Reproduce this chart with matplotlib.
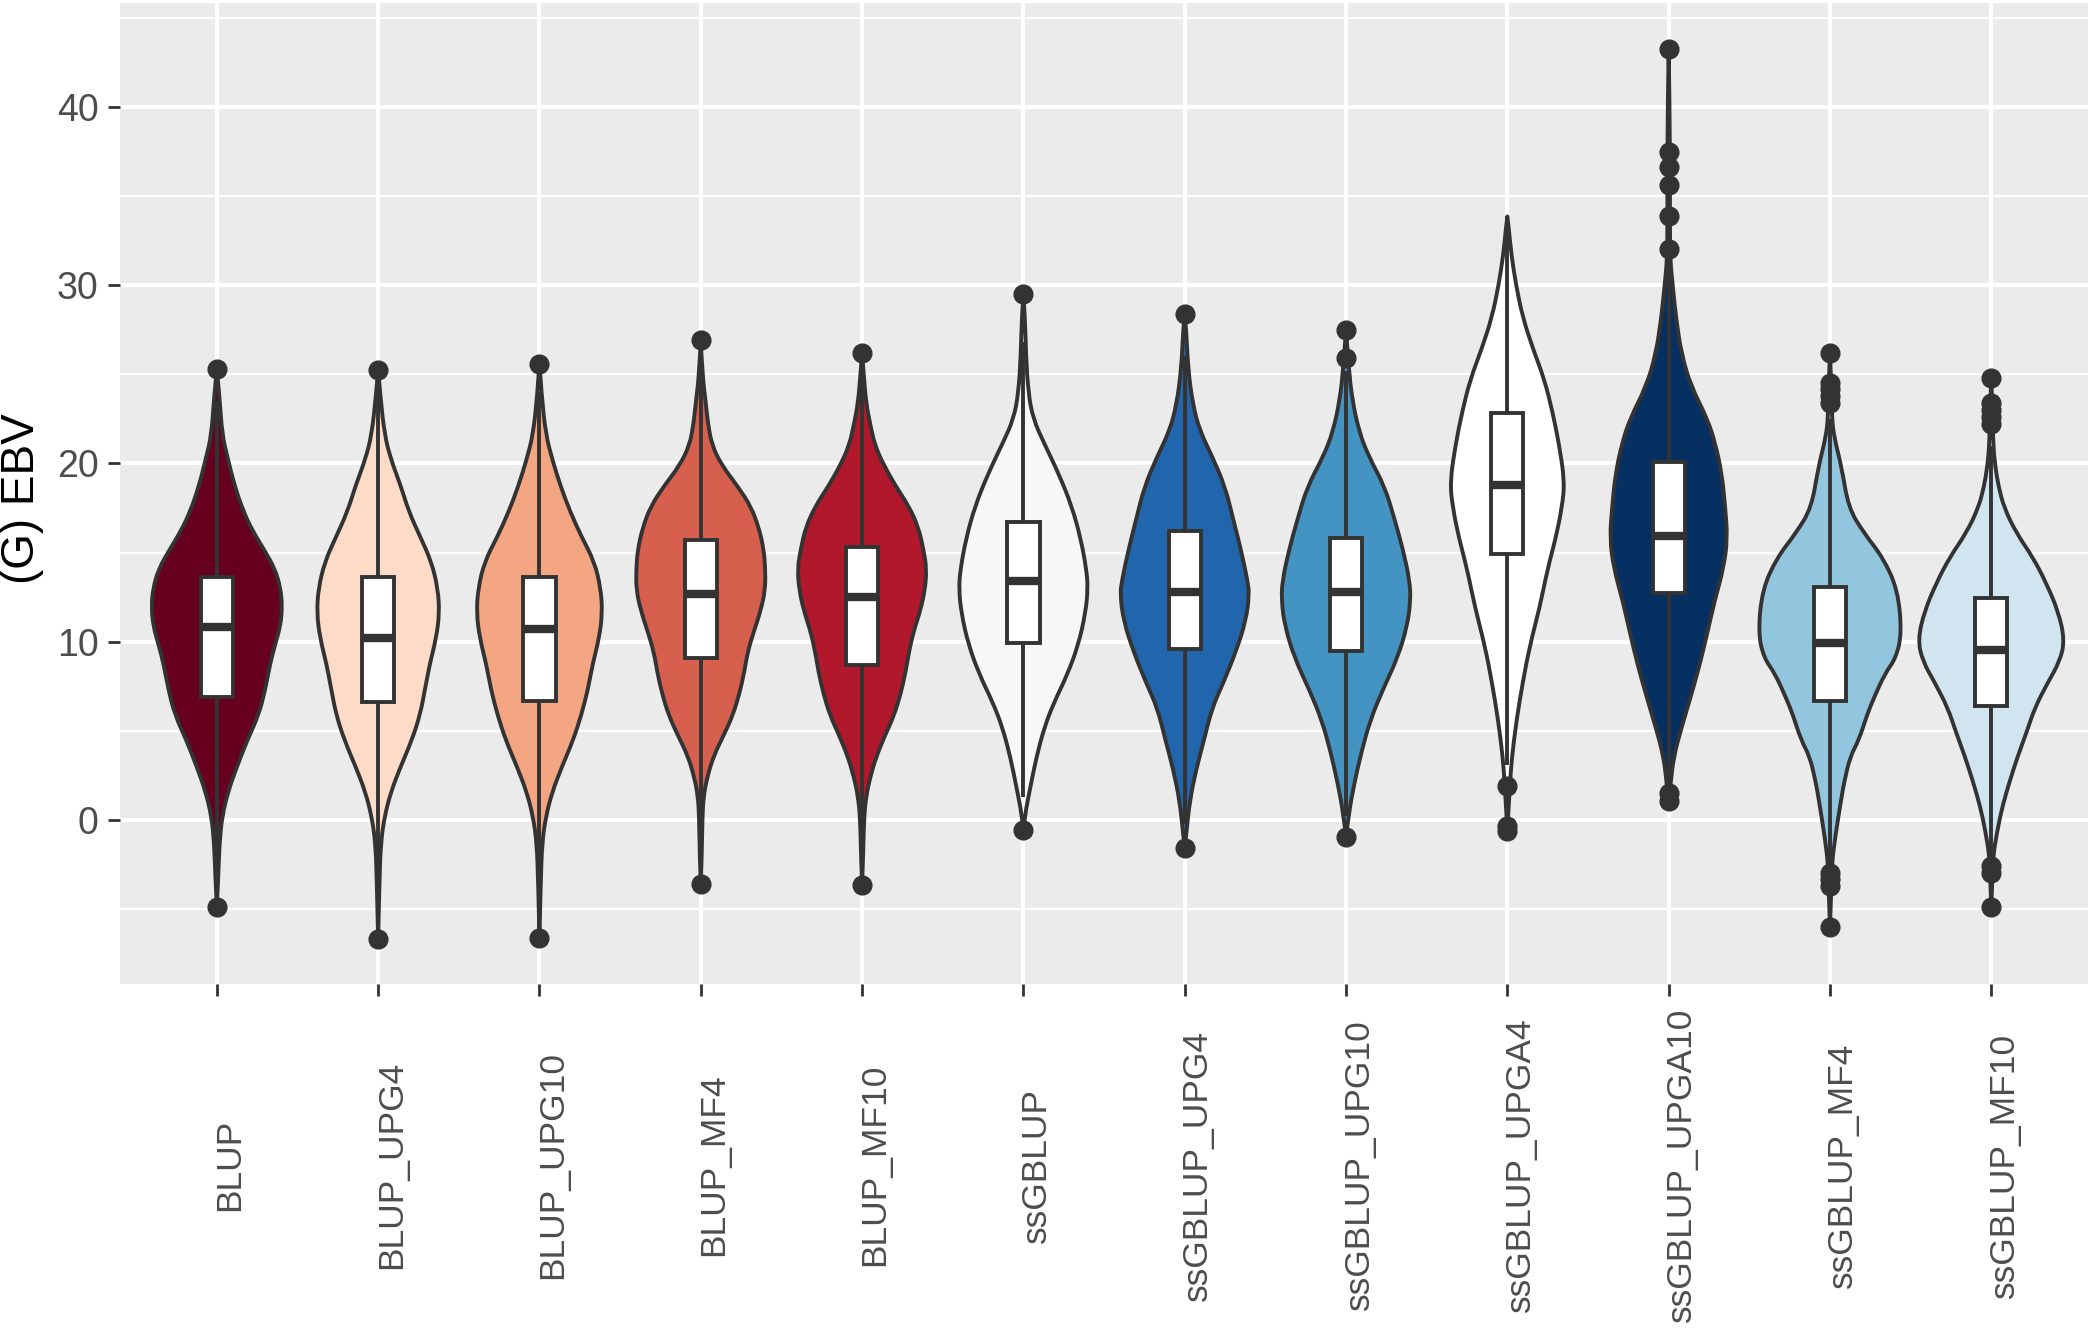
import numpy as np
import matplotlib.pyplot as plt
from matplotlib.ticker import MultipleLocator
from matplotlib.path import Path
from matplotlib.patches import PathPatch
import matplotlib.transforms as mtransforms

plt.rcParams['font.family'] = ['Liberation Sans', 'DejaVu Sans']

categories = ['BLUP', 'BLUP_UPG4', 'BLUP_UPG10', 'BLUP_MF4', 'BLUP_MF10', 'ssGBLUP',
              'ssGBLUP_UPG4', 'ssGBLUP_UPG10', 'ssGBLUP_UPGA4', 'ssGBLUP_UPGA10',
              'ssGBLUP_MF4', 'ssGBLUP_MF10']
fills = ['#67001F', '#FDDBC7', '#F4A582', '#D6604D', '#B2182B', '#F7F7F7',
         '#2166AC', '#4393C3', '#FFFFFF', '#053061', '#92C5DE', '#D1E5F0']

# box statistics
q1 = [6.9, 6.6, 6.7, 9.07, 8.7, 9.9, 9.6, 9.5, 14.9, 12.75, 6.67, 6.4]
med = [10.8, 10.2, 10.7, 12.67, 12.5, 13.4, 12.8, 12.8, 18.8, 15.9, 9.95, 9.55]
q3 = [13.6, 13.6, 13.65, 15.7, 15.3, 16.7, 16.2, 15.8, 22.8, 20.1, 13.05, 12.45]
whisk_lo = [-3.0, -3.8, -3.6, -0.8, -1.1, 1.3, -0.2, 0.2, 3.1, 1.8, -2.5, -2.3]
whisk_hi = [23.5, 24.0, 24.0, 25.5, 25.1, 26.8, 26.0, 25.2, 33.85, 31.0, 22.5, 21.0]
outliers = [
    [25.3, -4.9],
    [25.25, -6.7],
    [25.6, -6.6],
    [26.9, -3.6],
    [26.2, -3.67],
    [29.5, -0.57],
    [28.4, -1.55],
    [27.5, 25.9, -0.95],
    [1.9, -0.35, -0.6],
    [43.25, 37.45, 36.6, 35.6, 33.9, 32.0, 1.5, 1.05],
    [26.2, 24.5, 24.2, 23.8, 23.4, -3.0, -3.3, -3.7, -6.0],
    [24.8, 23.4, 23.0, 22.6, 22.2, -2.6, -3.0, -4.9],
]

# violin outlines: EBV level and half width (in category units)
vio_y = [
    [25.3, 23.75, 21.6, 20.2, 18.75, 17.3, 16.25, 15.2, 14.1, 13.0, 12.0, 10.9, 9.8, 8.75, 7.3, 5.9, 4.5, 3.0, 1.6, 0.2, -1.25, -3.4, -4.9],
    [25.25, 23.75, 21.6, 20.2, 18.75, 17.3, 15.9, 14.5, 13.0, 11.6, 10.2, 8.75, 7.3, 5.9, 4.5, 3.0, 1.6, 0.2, -1.25, -3.4, -6.7],
    [25.6, 23.75, 21.6, 20.2, 18.75, 17.3, 15.9, 14.5, 13.0, 11.6, 10.2, 8.75, 7.3, 5.9, 4.5, 3.0, 1.6, 0.2, -1.25, -3.4, -6.6],
    [26.9, 25.0, 23.4, 22.2, 21.0, 19.9, 18.7, 17.6, 16.4, 15.2, 14.1, 12.9, 11.7, 10.6, 9.4, 8.3, 7.1, 5.9, 4.8, 3.6, 2.4, 1.3, 0.1, -2.2, -3.6],
    [26.2, 25.0, 23.4, 22.2, 21.0, 19.9, 18.7, 17.6, 16.4, 15.2, 14.1, 12.9, 11.7, 10.6, 9.4, 8.3, 7.1, 5.9, 4.8, 3.6, 2.4, 1.3, 0.1, -2.2, -3.67],
    [29.5, 28.2, 26.1, 24.0, 22.5, 21.1, 19.4, 17.6, 15.8, 14.1, 13.0, 11.6, 9.8, 8.1, 6.6, 5.2, 3.5, 1.7, 0.3, -0.57],
    [28.4, 27.5, 25.4, 23.3, 21.8, 20.4, 18.7, 16.9, 15.1, 13.4, 12.65, 11.2, 9.5, 7.7, 6.3, 4.5, 2.8, 1.0, -0.8, -1.55],
    [27.5, 25.4, 23.6, 21.8, 20.4, 18.7, 16.9, 15.1, 13.4, 12.3, 10.9, 9.1, 7.35, 5.6, 3.8, 2.0, 0.3, -0.95],
    [33.85, 33.1, 31.7, 30.0, 28.2, 26.4, 24.7, 22.9, 21.1, 19.0, 17.6, 15.8, 14.1, 11.9, 9.8, 7.7, 5.6, 3.5, 2.0, -0.6],
    [43.25, 40.0, 36.0, 33.0, 31.4, 30.0, 28.2, 26.1, 24.3, 22.5, 21.1, 19.4, 17.6, 15.8, 14.1, 12.3, 10.5, 8.8, 7.0, 5.2, 3.5, 2.05, 1.05],
    [26.2, 24.5, 22.6, 21.5, 19.8, 17.5, 16.1, 14.7, 12.9, 10.5, 9.1, 8.2, 6.8, 5.9, 4.5, 3.55, 2.2, 1.2, -1.1, -2.5, -4.0, -6.0],
    [24.8, 23.0, 21.0, 19.8, 18.7, 17.5, 16.1, 14.7, 13.3, 11.7, 10.1, 8.9, 7.7, 6.3, 4.95, 3.6, 2.2, 0.8, -0.6, -2.0, -3.0, -4.9],
]
vio_w = [
    [0, .017, .033, .07, .11, .165, .22, .29, .36, .395, .405, .395, .36, .33, .30, .26, .19, .125, .07, .033, .017, .008, 0],
    [0, .014, .04, .08, .14, .19, .26, .33, .37, .38, .36, .32, .29, .26, .21, .14, .08, .04, .017, .008, 0],
    [0, .014, .04, .08, .13, .19, .26, .34, .38, .39, .37, .33, .30, .26, .21, .14, .08, .04, .017, .008, 0],
    [0, .01, .031, .045, .07, .13, .23, .31, .36, .39, .40, .40, .37, .33, .29, .27, .24, .20, .145, .08, .04, .017, .01, .006, 0],
    [0, .01, .025, .05, .08, .135, .21, .29, .35, .38, .40, .39, .36, .32, .29, .27, .24, .20, .145, .09, .05, .025, .012, .006, 0],
    [0, .01, .016, .03, .06, .13, .22, .30, .355, .39, .40, .385, .34, .27, .19, .13, .08, .04, .01, 0],
    [0, .01, .02, .05, .095, .17, .25, .30, .35, .39, .40, .38, .32, .24, .17, .12, .07, .03, .01, 0],
    [0, .016, .038, .08, .14, .24, .30, .355, .395, .40, .38, .32, .23, .15, .095, .05, .016, 0],
    [0, .01, .025, .054, .095, .16, .23, .28, .32, .355, .34, .30, .25, .20, .14, .095, .057, .028, .016, 0],
    [0, .006, .008, .008, .01, .025, .045, .08, .14, .24, .29, .33, .35, .365, .34, .285, .24, .195, .14, .08, .03, .013, 0],
    [0, .008, .012, .025, .072, .115, .21, .33, .42, .445, .41, .34, .27, .23, .18, .125, .09, .07, .03, .012, .008, 0],
    [0, .008, .012, .025, .045, .08, .155, .26, .34, .415, .455, .425, .35, .27, .22, .165, .115, .07, .037, .012, .008, 0],
]

line_col = '#333333'
box_w = 0.2
lw = 2.8


def smooth_side(pts):
    # quadratic bezier through the read points (points act as control points)
    verts = [pts[0]]
    codes = [Path.MOVETO]
    for k in range(1, len(pts) - 2):
        mid = ((pts[k][0] + pts[k + 1][0]) / 2, (pts[k][1] + pts[k + 1][1]) / 2)
        verts += [pts[k], mid]
        codes += [Path.CURVE3, Path.CURVE3]
    verts += [pts[-2], pts[-1]]
    codes += [Path.CURVE3, Path.CURVE3]
    return verts, codes


fig = plt.figure(figsize=(20.91, 13.29), dpi=100)
ax = fig.add_axes([0.0574, 0.2596, 0.9412, 0.7381])
ax.set_facecolor('#EBEBEB')

for i in range(len(categories)):
    xc = i + 1
    right = [(xc + w, y) for y, w in zip(vio_y[i], vio_w[i])]
    left = [(xc - w, y) for y, w in zip(vio_y[i], vio_w[i])][::-1]
    v1, c1 = smooth_side(right)
    v2, c2 = smooth_side(left)
    c2[0] = Path.LINETO
    verts = v1 + v2 + [v1[0]]
    codes = c1 + c2 + [Path.CLOSEPOLY]
    ax.add_patch(PathPatch(Path(verts, codes), facecolor=fills[i], edgecolor=line_col,
                           lw=lw, joinstyle='round', zorder=3))
    # whiskers
    ax.plot([xc, xc], [whisk_lo[i], q1[i]], color=line_col, lw=lw, zorder=4, solid_capstyle='butt')
    ax.plot([xc, xc], [q3[i], whisk_hi[i]], color=line_col, lw=lw, zorder=4, solid_capstyle='butt')
    # box
    ax.add_patch(plt.Rectangle((xc - box_w / 2, q1[i]), box_w, q3[i] - q1[i],
                               facecolor='white', edgecolor=line_col, lw=lw, zorder=5))
    ax.plot([xc - box_w / 2, xc + box_w / 2], [med[i], med[i]], color=line_col, lw=6.0,
            zorder=6, solid_capstyle='butt')
    ax.plot([xc] * len(outliers[i]), outliers[i], 'o', color=line_col, ms=13.5,
            mec=line_col, zorder=6)

ax.set_xlim(0.4, 12.6)
ax.set_ylim(-9.2, 45.82)
ax.set_xticks(range(1, len(categories) + 1))
ax.set_xticklabels([])
ax.yaxis.set_major_locator(MultipleLocator(10))
ax.yaxis.set_minor_locator(MultipleLocator(5))
ax.grid(which='major', color='white', lw=3.0, zorder=0)
ax.grid(which='minor', axis='y', color='white', lw=1.6, zorder=0)
ax.set_axisbelow(True)
for s in ax.spines.values():
    s.set_visible(False)
ax.tick_params(axis='both', which='major', length=8.5, width=2.0, color=line_col,
               labelsize=27, labelcolor='#4D4D4D', pad=7)
ax.tick_params(axis='y', which='minor', length=0)

# rotated category labels, centred at a common height below the panel
offset = mtransforms.ScaledTranslation(13 / 100, 0, fig.dpi_scale_trans)
trans = mtransforms.blended_transform_factory(ax.transData, fig.transFigure) + offset
for i, lab in enumerate(categories):
    ax.text(i + 1, 0.1234, lab, transform=trans, rotation=90, ha='center', va='center',
            fontsize=25.5, color='#4D4D4D')

fig.text(0.0105, 0.625, '(G) EBV', rotation=90, ha='center', va='center', fontsize=33,
         color='black')

fig.savefig('out.png', dpi=100)
